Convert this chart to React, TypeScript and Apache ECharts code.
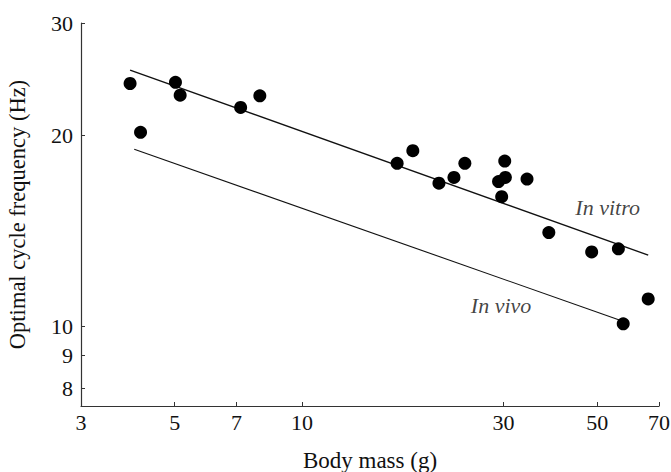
import React, { useEffect, useRef } from "react";
import * as echarts from "echarts";

// Body mass (g) and optimal cycle frequency (Hz) of the measured points
const massValues = [3.92, 4.15, 5.02, 5.15, 7.16, 7.95, 16.8, 18.3, 21.1, 22.9, 24.3, 30.2, 29.2, 30.3, 29.7, 34.1, 38.4, 48.5, 56.1, 66.0, 57.6];
const freqValues = [24.1, 20.2, 24.2, 23.1, 22.1, 23.05, 18.05, 18.9, 16.8, 17.15, 18.05, 18.2, 16.9, 17.15, 16.0, 17.05, 14.05, 13.1, 13.25, 11.05, 10.1];

// Fitted lines (endpoints)
const inVitroMass = [3.92, 66.0];
const inVitroFreq = [25.3, 12.95];
const inVivoMass = [4.01, 56.4];
const inVivoFreq = [19.0, 10.24];

// Line labels
const lineLabels = ["In vitro", "In vivo"];
const labelMass = [52.9, 29.6];
const labelFreq = [15.4, 10.8];

// Ticks
const xTicks = [3, 5, 7, 10, 30, 50, 70];
const yTicks = [8, 9, 10, 20, 30];

const FONT = "'Liberation Serif', 'DejaVu Serif', serif";
const INK = "#111";

export default function App() {
  const ref = useRef<HTMLDivElement>(null);
  useEffect(() => {
    if (!ref.current) return;
    const chart = echarts.init(ref.current, undefined, { renderer: "svg" });
    const pts = massValues.map((m, i) => [m, freqValues[i]]);
    chart.setOption({
      animation: false,
      backgroundColor: "#fff",
      grid: { left: 81, top: 23, right: 12, bottom: 66, containLabel: false, outerBoundsMode: "none" },
      xAxis: {
        type: "log",
        logBase: 10,
        min: 3,
        max: 70,
        name: "Body mass (g)",
        nameLocation: "middle",
        nameGap: 43,
        nameTextStyle: { fontFamily: FONT, fontSize: 23, color: INK },
        axisLine: { show: true, lineStyle: { color: "#333", width: 1.2 } },
        axisTick: { show: true, inside: true, length: 4, customValues: xTicks, lineStyle: { color: "#333" } },
        minorTick: { show: false },
        splitLine: { show: false },
        axisLabel: {
          customValues: xTicks,
          fontFamily: FONT,
          fontSize: 22,
          color: INK,
          margin: 5,
          formatter: (v: number) => String(Math.round(v)),
        },
      },
      yAxis: {
        type: "log",
        logBase: 10,
        min: 7.5,
        max: 30,
        name: "Optimal cycle frequency (Hz)",
        nameLocation: "middle",
        nameGap: 52,
        nameTextStyle: { fontFamily: FONT, fontSize: 22.5, color: INK },
        axisLine: { show: true, lineStyle: { color: "#333", width: 1.2 } },
        axisTick: { show: true, inside: true, length: 4, customValues: yTicks, lineStyle: { color: "#333" } },
        minorTick: { show: false },
        splitLine: { show: false },
        axisLabel: {
          customValues: yTicks,
          fontFamily: FONT,
          fontSize: 22,
          color: INK,
          margin: 8,
          formatter: (v: number) => String(Math.round(v)),
        },
      },
      series: [
        {
          type: "line",
          name: "In vitro",
          data: inVitroMass.map((m, i) => [m, inVitroFreq[i]]),
          symbol: "none",
          lineStyle: { color: INK, width: 1.4 },
          z: 2,
        },
        {
          type: "line",
          name: "In vivo",
          data: inVivoMass.map((m, i) => [m, inVivoFreq[i]]),
          symbol: "none",
          lineStyle: { color: INK, width: 1.1 },
          z: 2,
        },
        {
          type: "scatter",
          name: "points",
          data: pts,
          symbol: "circle",
          symbolSize: 13,
          itemStyle: { color: "#000", opacity: 1 },
          z: 3,
        },
        {
          type: "scatter",
          name: "labels",
          data: labelMass.map((m, i) => ({ value: [m, labelFreq[i]], name: lineLabels[i] })),
          symbolSize: 0,
          silent: true,
          label: {
            show: true,
            position: "inside",
            formatter: (p: any) => p.name,
            fontFamily: FONT,
            fontStyle: "italic",
            fontSize: 22,
            color: INK,
          },
          z: 4,
        },
      ],
    });
    return () => chart.dispose();
  }, []);
  return (
    <div
      ref={ref}
      style={{ position: "fixed", left: 0, top: 0, width: 671, height: 472, background: "#fff" }}
    />
  );
}
